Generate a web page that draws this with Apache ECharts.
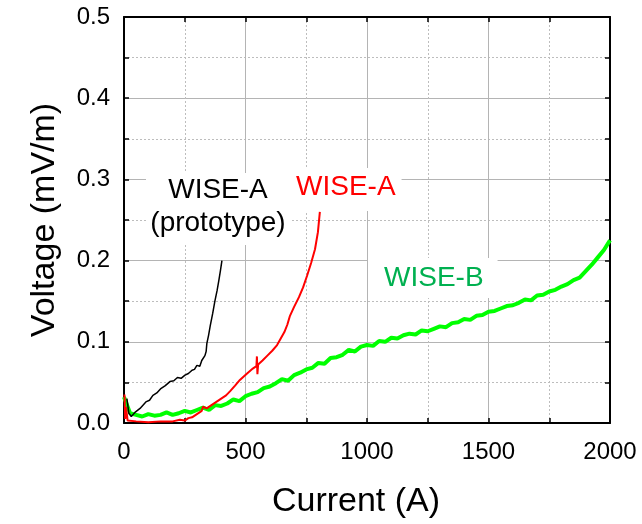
<!DOCTYPE html>
<html>
<head>
<meta charset="utf-8">
<script src="https://cdn.jsdelivr.net/npm/echarts@6/dist/echarts.min.js"></script>
<style>
  html, body { margin: 0; padding: 0; background: #fff; }
  #chart { width: 642px; height: 524px; }
</style>
</head>
<body>
<div id="chart"></div>
<script>
  'use strict'

  /* data: current (A), voltage (mV/m) */
  var protoCurrent = [12, 20, 30, 45, 66, 90, 105, 119, 135, 150, 170, 189, 205, 220, 235, 251, 265, 280, 290, 300, 312, 320, 328, 333, 338, 341, 348, 355, 365, 374, 383, 390, 397, 403];
  var protoVoltage = [0.030, 0.012, 0.008, 0.013, 0.018, 0.026, 0.028, 0.034, 0.037, 0.042, 0.046, 0.051, 0.052, 0.056, 0.055, 0.059, 0.061, 0.065, 0.066, 0.071, 0.070, 0.077, 0.076, 0.083, 0.088, 0.098, 0.108, 0.120, 0.135, 0.150, 0.163, 0.175, 0.188, 0.200];

  var wiseACurrent = [2, 5, 8, 15, 50, 100, 150, 200, 230, 250, 265, 280, 300, 320, 325, 340, 360, 380, 400, 420, 436, 457, 477, 495, 510, 530, 545, 547, 549, 552, 570, 590, 610, 630, 645, 660, 672, 683, 700, 720, 737, 753, 770, 786, 798, 806];
  var wiseAVoltage = [0.035, 0.005, 0.020, 0.003, 0.002, 0.001, 0.002, 0.002, 0.004, 0.003, 0.006, 0.007, 0.011, 0.015, 0.020, 0.018, 0.022, 0.026, 0.030, 0.034, 0.039, 0.046, 0.053, 0.058, 0.062, 0.067, 0.070, 0.082, 0.060, 0.072, 0.077, 0.083, 0.089, 0.096, 0.104, 0.112, 0.121, 0.132, 0.143, 0.155, 0.167, 0.181, 0.197, 0.214, 0.235, 0.260];

  var wiseBCurrent = [0, 25, 50, 75, 100, 125, 150, 175, 200, 225, 250, 275, 300, 325, 350, 375, 400, 425, 450, 475, 500, 525, 550, 575, 600, 625, 650, 675, 700, 725, 750, 775, 800, 825, 850, 875, 900, 925, 950, 975, 1000, 1025, 1050, 1075, 1100, 1125, 1150, 1175, 1200, 1225, 1250, 1275, 1300, 1325, 1350, 1375, 1400, 1425, 1450, 1475, 1500, 1525, 1550, 1575, 1600, 1625, 1650, 1675, 1700, 1725, 1750, 1775, 1800, 1825, 1850, 1875, 1900, 1925, 1950, 1975, 2000];
  var wiseBVoltage = [0.032, 0.012, 0.010, 0.008, 0.011, 0.009, 0.010, 0.013, 0.010, 0.012, 0.015, 0.013, 0.016, 0.019, 0.016, 0.022, 0.021, 0.024, 0.029, 0.027, 0.033, 0.036, 0.038, 0.043, 0.045, 0.049, 0.054, 0.052, 0.059, 0.062, 0.066, 0.068, 0.074, 0.073, 0.080, 0.081, 0.084, 0.090, 0.088, 0.094, 0.096, 0.095, 0.101, 0.100, 0.105, 0.104, 0.108, 0.110, 0.109, 0.114, 0.113, 0.116, 0.119, 0.118, 0.123, 0.124, 0.128, 0.127, 0.132, 0.133, 0.137, 0.138, 0.141, 0.144, 0.145, 0.148, 0.152, 0.151, 0.157, 0.158, 0.162, 0.164, 0.168, 0.171, 0.176, 0.179, 0.187, 0.195, 0.204, 0.213, 0.225];

  function pairs(xs, ys) {
    return xs.map(function (x, i) { return [x, ys[i]]; });
  }

  var font = '"Liberation Sans", Arial, sans-serif';

  var baseX = {
    type: 'value', min: 0, max: 2000, interval: 500,
    axisLine: { show: true, onZero: false, lineStyle: { color: '#000', width: 2 } },
    axisTick: { show: true, inside: true, length: 5, lineStyle: { color: '#000', width: 1.5 } },
    minorTick: { show: true, splitNumber: 2, length: 5, lineStyle: { color: '#000', width: 1.5 } }
  };
  var baseY = {
    type: 'value', min: 0, max: 0.5, interval: 0.1,
    axisLine: { show: true, onZero: false, lineStyle: { color: '#000', width: 2 } },
    axisTick: { show: true, inside: true, length: 5, lineStyle: { color: '#000', width: 1.5 } },
    minorTick: { show: true, splitNumber: 2, length: 5, lineStyle: { color: '#000', width: 1.5 } }
  };

  var chart = echarts.init(document.getElementById('chart'));
  var option = {
    backgroundColor: '#fff',
    animation: false,
    grid: { left: 124, right: 32, top: 17, bottom: 99 },
    xAxis: [
      Object.assign({}, baseX, {
        position: 'bottom',
        name: 'Current (A)', nameLocation: 'middle', nameGap: 62,
        nameTextStyle: { fontFamily: font, fontSize: 34, color: '#000', padding: [0, 22, 0, 0] },
        axisLabel: {
          fontFamily: font, fontSize: 24, color: '#000', margin: 17,
          formatter: function (v) { return String(v); }
        },
        splitLine: { show: true, lineStyle: { color: '#b4b4b4', width: 1 } },
        minorSplitLine: { show: true, lineStyle: { color: '#bdbdbd', width: 1, type: [2, 2] } }
      }),
      Object.assign({}, baseX, {
        position: 'top',
        axisLabel: { show: false },
        splitLine: { show: false }
      })
    ],
    yAxis: [
      Object.assign({}, baseY, {
        position: 'left',
        name: 'Voltage (mV/m)', nameLocation: 'middle', nameGap: 62,
        nameTextStyle: { fontFamily: font, fontSize: 34, color: '#000' },
        axisLabel: {
          fontFamily: font, fontSize: 24, color: '#000', margin: 14,
          formatter: function (v) { return v.toFixed(1); }
        },
        splitLine: { show: true, lineStyle: { color: '#b4b4b4', width: 1 } },
        minorSplitLine: { show: true, lineStyle: { color: '#bdbdbd', width: 1, type: [2, 2] } }
      }),
      Object.assign({}, baseY, {
        position: 'right',
        axisLabel: { show: false },
        splitLine: { show: false }
      })
    ],
    graphic: [
      {
        type: 'rect', left: 146, top: 173, z: 9,
        shape: { width: 144, height: 72 },
        style: { fill: '#fff' }
      },
      {
        type: 'text', x: 218, y: 176, z: 10,
        style: { text: 'WISE-A', font: '28px ' + font, fill: '#000', align: 'center' }
      },
      {
        type: 'text', x: 218, y: 209, z: 10,
        style: { text: '(prototype)', font: '28px ' + font, fill: '#000', align: 'center' }
      },
      {
        type: 'text', left: 290, top: 168, z: 10,
        style: {
          text: 'WISE-A', font: '28px ' + font, fill: '#ff0000',
          backgroundColor: '#fff', padding: [5, 6, 10, 6]
        }
      },
      {
        type: 'text', left: 368, top: 258, z: 10,
        style: {
          text: 'WISE-B', font: '28px ' + font, fill: '#00b050',
          backgroundColor: '#fff', padding: [6, 14, 6, 16]
        }
      }
    ],
    series: [
      {
        name: 'WISE-B', type: 'line', showSymbol: false, z: 3,
        data: pairs(wiseBCurrent, wiseBVoltage),
        lineStyle: { color: '#00ff00', width: 4 }
      },
      {
        name: 'WISE-A', type: 'line', showSymbol: false, z: 4,
        data: pairs(wiseACurrent, wiseAVoltage),
        lineStyle: { color: '#ff0000', width: 2 }
      },
      {
        name: 'WISE-A (prototype)', type: 'line', showSymbol: false, z: 5,
        data: pairs(protoCurrent, protoVoltage),
        lineStyle: { color: '#000', width: 1.5 }
      }
    ]
  };
  chart.setOption(option);
</script>
</body>
</html>
